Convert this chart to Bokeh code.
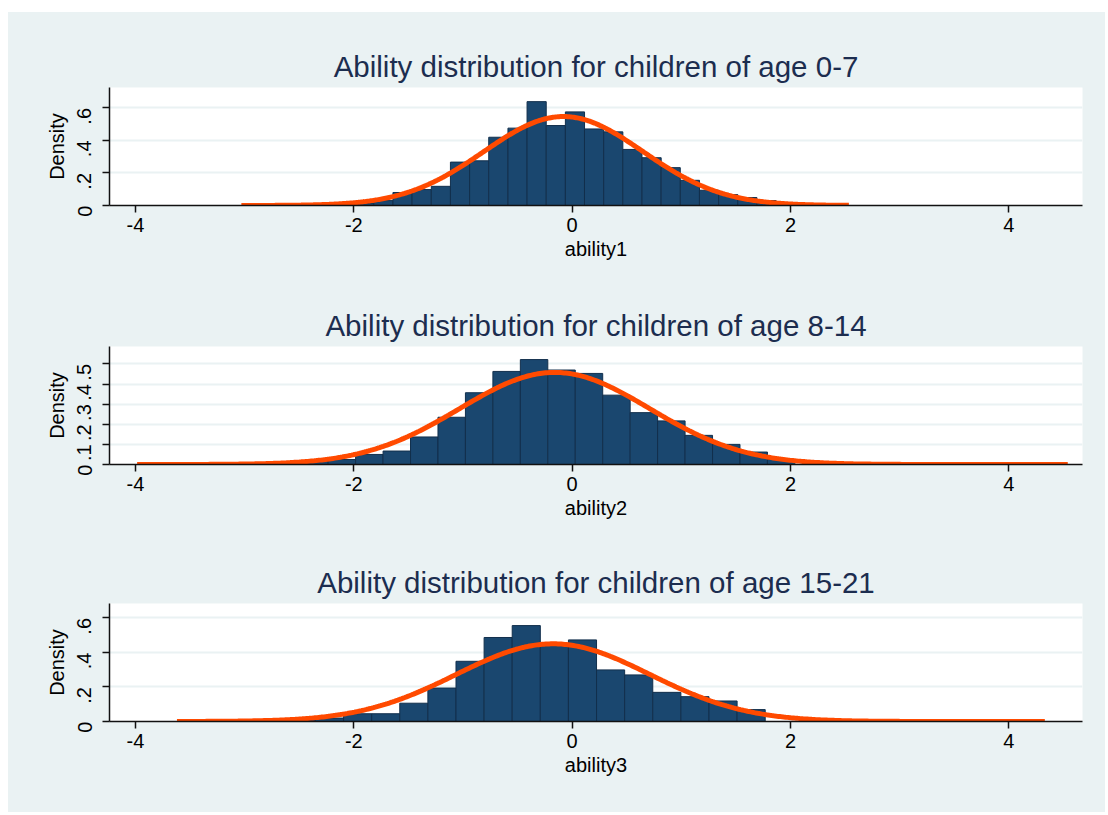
import math
import numpy as np
from bokeh.plotting import figure
from bokeh.layouts import column, row
from bokeh.models import Spacer, FixedTicker, CustomJSTickFormatter, Range1d
from bokeh.embed import file_html
from bokeh.resources import INLINE

# ---------------- data ----------------
titles = ["Ability distribution for children of age 0-7",
          "Ability distribution for children of age 8-14",
          "Ability distribution for children of age 15-21"]
xlabels = ["ability1", "ability2", "ability3"]
ylabel = "Density"

x_ticks = [-4, -2, 0, 2, 4]
y_ticks1 = [0, 0.2, 0.4, 0.6]
y_ticks2 = [0, 0.1, 0.2, 0.3, 0.4, 0.5]
y_ticks3 = [0, 0.2, 0.4, 0.6]

# panel 1 histogram (age 0-7)
bin_width1 = 0.1755
bin_left1 = [-2.168, -1.993, -1.817, -1.6415, -1.466, -1.290, -1.115, -0.939,
             -0.764, -0.588, -0.413, -0.2375, -0.062, 0.113, 0.289, 0.464,
             0.640, 0.815, 0.991, 1.166, 1.342, 1.517, 1.693, 1.868]
density1 = [0.006, 0.015, 0.030, 0.080, 0.098, 0.118, 0.267, 0.275,
            0.420, 0.476, 0.639, 0.492, 0.576, 0.471, 0.453, 0.345,
            0.294, 0.233, 0.155, 0.094, 0.067, 0.049, 0.030, 0.012]

# panel 2 histogram (age 8-14)
bin_width2 = 0.2515
bin_left2 = [-2.738, -2.4865, -2.235, -1.9835, -1.732, -1.4805, -1.229, -0.9775,
             -0.726, -0.4745, -0.223, 0.0285, 0.280, 0.5315, 0.783, 1.0345,
             1.286, 1.5375, 1.789]
density2 = [0.008, 0.017, 0.025, 0.050, 0.067, 0.137, 0.235, 0.357,
            0.463, 0.522, 0.470, 0.453, 0.345, 0.258, 0.217, 0.145,
            0.100, 0.062, 0.025]

# panel 3 histogram (age 15-21)
bin_width3 = 0.2575
bin_left3 = [-2.609, -2.3515, -2.094, -1.8365, -1.579, -1.3215, -1.064, -0.8065,
             -0.549, -0.2915, -0.034, 0.2235, 0.481, 0.7385, 0.996, 1.2535, 1.511]
density3 = [0.008, 0.020, 0.045, 0.045, 0.106, 0.194, 0.349, 0.487,
            0.556, 0.440, 0.473, 0.299, 0.270, 0.169, 0.144, 0.119, 0.069]

# normal-density overlays: mean, sd and drawn x-extent
normal1 = dict(mean=-0.08, sd=0.729, lo=-3.03, hi=2.535)
normal2 = dict(mean=-0.16, sd=0.871, lo=-3.985, hi=4.54)
normal3 = dict(mean=-0.175, sd=0.886, lo=-3.62, hi=4.33)

y_max = [0.726, 0.587, 0.684]
x_min, x_max = -4.238, 4.675

# ---------------- styling ----------------
BG = "#eaf2f3"
BAR = "#1a476f"
BAR_EDGE = "#122f4c"
CURVE = "#ff4a00"
TITLE_C = "#1c2d4f"
FONT = "Liberation Sans"


def make_panel(title, xlabel, lefts, width, dens, normal, yticks, ymax,
               height, bottom):
    p = figure(width=1097, height=height, output_backend="svg",
               toolbar_location=None,
               x_range=Range1d(x_min, x_max), y_range=Range1d(0, ymax),
               min_border_left=101, min_border_right=23,
               min_border_top=75, min_border_bottom=bottom,
               background_fill_color="white", border_fill_color=BG,
               outline_line_color=None, styles={"background-color": BG})
    rights = [l + width for l in lefts]
    p.quad(left=lefts, right=rights, bottom=0, top=dens,
           fill_color=BAR, line_color=BAR_EDGE, line_width=1)
    xs = np.linspace(normal["lo"], normal["hi"], 500)
    ys = np.exp(-0.5 * ((xs - normal["mean"]) / normal["sd"]) ** 2) / (
        normal["sd"] * math.sqrt(2 * math.pi))
    p.line(xs, ys, line_width=5, line_color=CURVE)

    p.title.text = title
    p.title.align = "center"
    p.title.text_font = FONT
    p.title.text_font_size = "29.5px"
    p.title.text_font_style = "normal"
    p.title.text_color = TITLE_C
    p.title.standoff = 9

    p.xaxis.ticker = FixedTicker(ticks=x_ticks)
    p.xaxis.formatter = CustomJSTickFormatter(code="return tick.toString();")
    p.yaxis.ticker = FixedTicker(ticks=yticks)
    p.yaxis.formatter = CustomJSTickFormatter(
        code="if (tick == 0) { return '0'; } return tick.toFixed(1).replace(/^0/, '');")
    p.yaxis.major_label_orientation = math.pi / 2
    p.xaxis.axis_label = xlabel
    p.yaxis.axis_label = ylabel
    for ax in (p.xaxis, p.yaxis):
        ax.axis_line_color = "#111111"
        ax.axis_line_width = 1.5
        ax.major_tick_line_color = "#111111"
        ax.major_tick_line_width = 1.5
        ax.major_tick_out = 7
        ax.major_tick_in = 0
        ax.minor_tick_line_color = None
        ax.major_label_text_font = FONT
        ax.major_label_text_font_size = "20px"
        ax.major_label_text_color = "#000000"
        ax.axis_label_text_font = FONT
        ax.axis_label_text_font_size = "20px"
        ax.axis_label_text_font_style = "normal"
        ax.axis_label_text_color = "#000000"
    p.xaxis.major_label_standoff = 5
    p.xaxis.axis_label_standoff = 3
    p.yaxis.major_label_standoff = 18
    p.yaxis.axis_label_standoff = 0
    p.xgrid.grid_line_color = None
    p.ygrid.ticker = FixedTicker(ticks=yticks)
    p.ygrid.grid_line_color = BG
    p.ygrid.grid_line_width = 2
    return p


p1 = make_panel(titles[0], xlabels[0], bin_left1, bin_width1, density1, normal1,
                y_ticks1, y_max[0], 259, 66)
p2 = make_panel(titles[1], xlabels[1], bin_left2, bin_width2, density2, normal2,
                y_ticks2, y_max[1], 257, 64)
p3 = make_panel(titles[2], xlabels[2], bin_left3, bin_width3, density3, normal3,
                y_ticks3, y_max[2], 284, 91)

panels = column(p1, p2, p3, spacing=0, styles={"background-color": BG})
layout = row(Spacer(width=8, height=10),
             column(Spacer(width=1097, height=12), panels, spacing=0),
             spacing=0)

open("out.html", "w").write(file_html(layout, INLINE))
